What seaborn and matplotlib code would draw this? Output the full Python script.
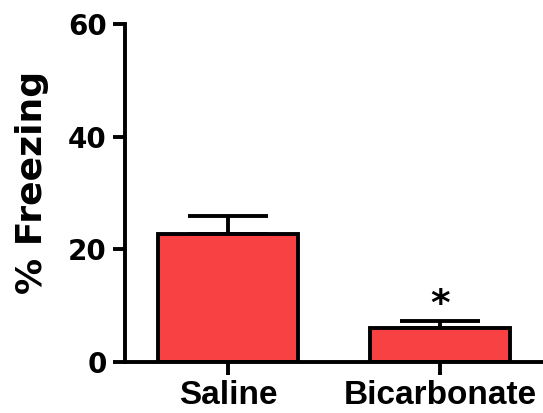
import matplotlib
matplotlib.use("Agg")
import matplotlib.pyplot as plt
import seaborn as sns
import pandas as pd

# Group means and standard errors (% time freezing)
groups = ["Saline", "Bicarbonate"]
freezing_mean = [22.7, 6.1]
freezing_sem = [3.2, 1.2]
y_ticks = [0, 20, 40, 60]
significance = ["", "*"]

df = pd.DataFrame({"group": groups, "freezing": freezing_mean})

sns.set_style("ticks")
plt.rcParams["font.family"] = ["DejaVu Sans"]

fig = plt.figure(figsize=(5.43, 4.13), dpi=100)
ax = fig.add_axes([0.2302, 0.1235, 0.7698, 0.8184])

bar_red = "#F74142"
lw = 2.8

ax.errorbar(x=range(len(groups)), y=freezing_mean,
            yerr=[[0] * len(groups), freezing_sem],
            fmt="none", ecolor="black", elinewidth=lw,
            capsize=29, capthick=lw, zorder=1)

sns.barplot(data=df, x="group", y="freezing", order=groups,
            color=bar_red, saturation=1, width=0.665,
            edgecolor="black", linewidth=lw, errorbar=None,
            ax=ax, zorder=2)

for i, mark in enumerate(significance):
    if mark:
        ax.text(i, freezing_mean[i] + freezing_sem[i] + 1.0, mark,
                ha="center", va="baseline", fontsize=27, fontweight="bold",
                color="black", zorder=3)

ax.set_xlim(-0.486, 1.486)
ax.set_ylim(0, 60)
ax.set_yticks(y_ticks)
ax.set_yticklabels([str(t) for t in y_ticks], fontsize=20, fontweight="bold")
ax.set_xticks(range(len(groups)))
ax.set_xticklabels(groups, fontsize=24, fontweight="bold",
                   family=["Liberation Sans"])

ax.set_xlabel("")
ax.set_ylabel("% Freezing", fontsize=26, fontweight="bold", color="black")
ax.yaxis.set_label_coords(-0.181, 0.53)

for side in ["top", "right"]:
    ax.spines[side].set_visible(False)
for side in ["left", "bottom"]:
    ax.spines[side].set_linewidth(lw)
    ax.spines[side].set_color("black")

ax.tick_params(axis="both", direction="out", length=9, width=lw,
               color="black", labelcolor="black")
ax.tick_params(axis="y", pad=4)
ax.tick_params(axis="x", pad=4)

fig.savefig("out.png", dpi=100)
